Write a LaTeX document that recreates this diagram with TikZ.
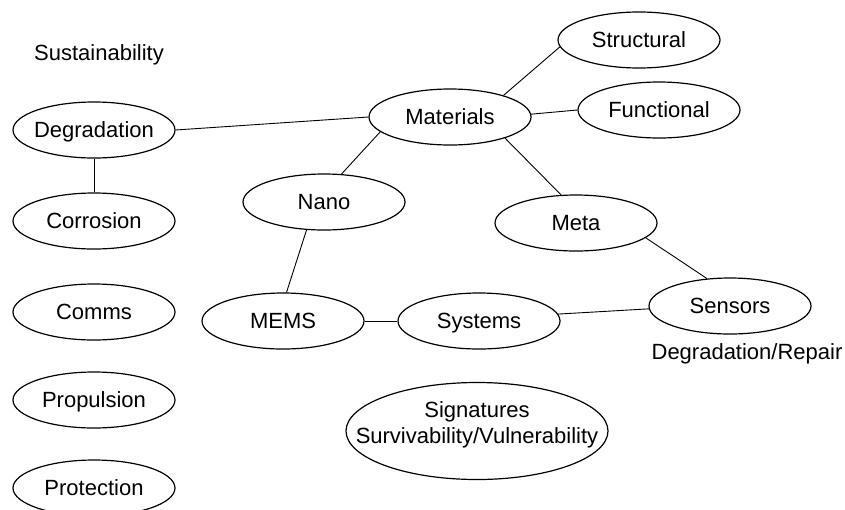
\documentclass[tikz,border=0pt]{standalone}
\usepackage{fontspec}
\setmainfont{Liberation Sans}
\usetikzlibrary{shapes.geometric}
\newcommand{\zb}[1]{\makebox[0pt]{#1}}
\tikzset{
  oval/.style={ellipse, draw=black, line width=1.2pt, minimum width=162pt, minimum height=56pt, inner sep=0pt, text height=15.8pt, text depth=0pt, font=\fontsize{22}{26}\selectfont},
  bigoval/.style={ellipse, draw=black, line width=1.2pt, minimum width=262pt, minimum height=97pt, inner sep=0pt},
  plain/.style={inner sep=0pt, font=\fontsize{22}{26}\selectfont, align=center},
  link/.style={draw=black, line width=0.9pt}
}
\begin{document}
\begin{tikzpicture}[x=1pt, y=-1pt]
\useasboundingbox (0,0) rectangle (845,509);
\node[plain] (sust) at (99,55) {Sustainability};
\node[oval] (degr) at (94,130) {\zb{Degradation}};
\node[oval] (corr) at (94,221) {\zb{Corrosion}};
\node[oval] (comms) at (94,312) {\zb{Comms}};
\node[oval] (prop) at (94,400) {\zb{Propulsion}};
\node[oval] (prot) at (94,488) {\zb{Protection}};
\node[oval] (mat) at (450,117) {\zb{Materials}};
\node[oval] (struc) at (639,40) {\zb{Structural}};
\node[oval] (func) at (659,110) {\zb{Functional}};
\node[oval] (nano) at (324,202) {\zb{Nano}};
\node[oval] (meta) at (576,223) {\zb{Meta}};
\node[oval] (mems) at (283,321) {\zb{MEMS}};
\node[oval] (sys) at (479,321) {\zb{Systems}};
\node[oval] (sens) at (730,306) {\zb{Sensors}};
\node[plain] (repair) at (747,354) {Degradation/Repair};
\node[bigoval] (sig) at (477,431) {};
\node[plain] (sigtxt) at (477,425) {Signatures\\Survivability/Vulnerability};
\draw[link] (degr.east) -- (mat.west);
\draw[link] (degr.south) -- (corr.north);
\draw[link] (mat.22) -- (struc.185);
\draw[link] (mat.2) -- (func.west);
\draw[link] (mat.192) -- (nano.58);
\draw[link] (mat.-21) -- (meta.118);
\draw[link] (nano.238) -- (mems.83);
\draw[link] (mems.east) -- (sys.west);
\draw[link] (sys.5) -- (sens.182);
\draw[link] (meta.-12) -- (sens.130);
\end{tikzpicture}
\end{document}
